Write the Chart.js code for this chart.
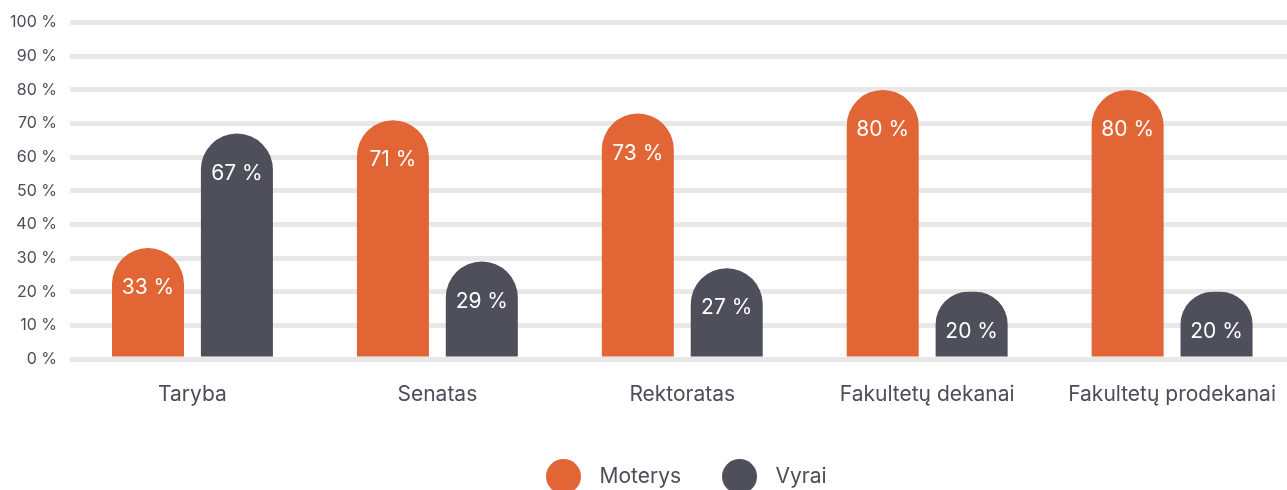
<!DOCTYPE html>
<html>
<head>
<meta charset="utf-8">
<script src="https://cdn.jsdelivr.net/npm/chart.js@4"></script>
<style>
  html, body { margin: 0; padding: 0; background: #fff; overflow: hidden; }
  #wrap { position: relative; width: 1299px; height: 497px; }
</style>
</head>
<body>
<div id="wrap"><canvas id="chart"></canvas></div>
<script>
// ------- Data -------
const categories = ['Taryba', 'Senatas', 'Rektoratas', 'Fakultetų dekanai', 'Fakultetų prodekanai'];
const moterys = [33, 71, 73, 80, 80];
const vyrai = [67, 29, 27, 20, 20];
const yTicks = [0, 10, 20, 30, 40, 50, 60, 70, 80, 90, 100];

const ORANGE = '#e16535';
const SLATE = '#4e4f5b';
const TEXT = '#4b4d58';
const FONT = 'Inter, "Noto Sans", sans-serif';

// legend dots are drawn as small canvases so they can be larger than the text
function dot(color, d) {
  const c = document.createElement('canvas');
  c.width = d; c.height = d;
  const g = c.getContext('2d');
  g.fillStyle = color;
  g.beginPath();
  g.arc(d / 2, d / 2, d / 2, 0, Math.PI * 2);
  g.fill();
  return c;
}
const dots = [dot(ORANGE, 35), dot(SLATE, 35)];

// white value labels inside the rounded bar tops
const valueLabels = {
  id: 'valueLabels',
  afterDatasetsDraw(chart) {
    const { ctx } = chart;
    ctx.save();
    ctx.fillStyle = '#fff';
    ctx.font = '21px ' + FONT;
    ctx.textAlign = 'center';
    ctx.textBaseline = 'middle';
    chart.data.datasets.forEach((ds, i) => {
      chart.getDatasetMeta(i).data.forEach((bar, j) => {
        ctx.fillText(ds.data[j] + ' %', bar.x, bar.y + 40);
      });
    });
    ctx.restore();
  }
};

new Chart(document.getElementById('chart'), {
  type: 'bar',
  data: {
    labels: categories,
    datasets: [
      { label: 'Moterys', data: moterys, backgroundColor: ORANGE },
      { label: 'Vyrai', data: vyrai, backgroundColor: SLATE }
    ]
  },
  options: {
    responsive: true, maintainAspectRatio: false, animation: false,
    layout: { padding: { top: 22, left: 0, right: 0, bottom: 0 } },
    datasets: {
      bar: {
        categoryPercentage: 0.726,
        barPercentage: 0.81,
        borderRadius: 100,
        borderSkipped: 'start'
      }
    },
    plugins: {
      tooltip: { enabled: false },
      legend: {
        position: 'bottom',
        fullSize: false,
        labels: {
          usePointStyle: true,
          pointStyleWidth: 51,
          padding: 33,
          color: TEXT,
          font: { family: FONT, size: 21 },
          generateLabels(chart) {
            const items = Chart.defaults.plugins.legend.labels.generateLabels(chart);
            items.forEach((it, i) => { it.pointStyle = dots[i]; });
            return items;
          }
        }
      }
    },
    scales: {
      x: {
        grid: { display: false, drawTicks: false },
        border: { display: false },
        ticks: { color: TEXT, font: { family: FONT, size: 21 }, padding: 23, maxRotation: 0 },
        afterFit(scale) { scale.height = 74; }
      },
      y: {
        min: 0, max: 100,
        afterBuildTicks(scale) { scale.ticks = yTicks.map(v => ({ value: v })); },
        grid: { color: '#e8e8e8', lineWidth: 5, drawTicks: false },
        border: { display: false },
        ticks: {
          color: TEXT, font: { family: FONT, size: 16 }, padding: 13,
          callback: v => v + ' %'
        },
        afterFit(scale) { scale.width = 70; }
      }
    }
  },
  plugins: [valueLabels]
});
</script>
</body>
</html>
